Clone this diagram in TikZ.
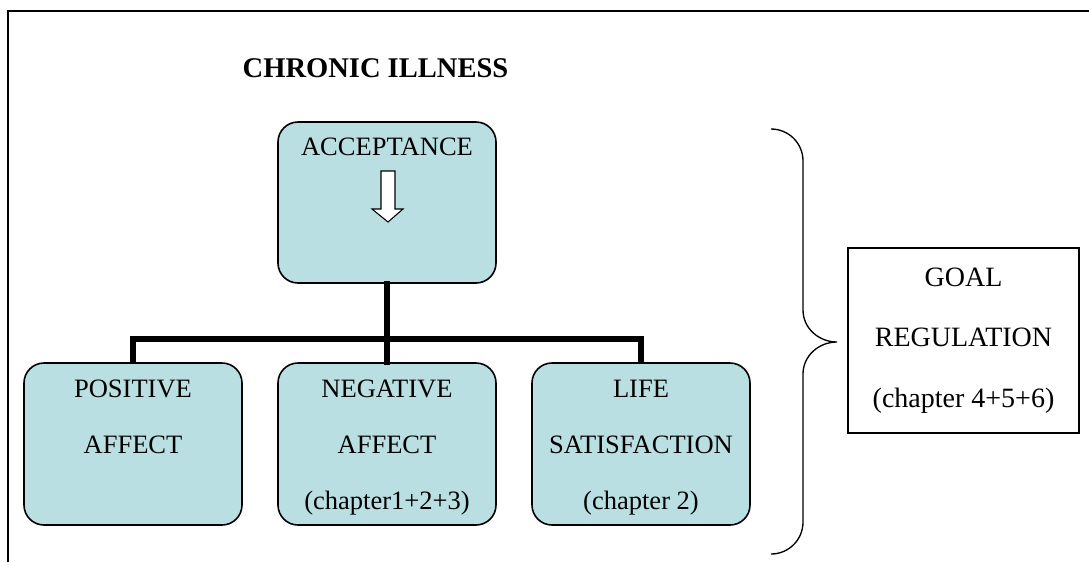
\documentclass[tikz,border=0pt]{standalone}
\usepackage{fontspec}
\setmainfont{Liberation Serif}
\usepackage{tikz}
\definecolor{boxfill}{RGB}{185,223,226}
\newcommand{\boxfont}{\fontsize{19.9pt}{42pt}\selectfont}
\newcommand{\goalfont}{\fontsize{21pt}{45.4pt}\selectfont}

\begin{document}
\begin{tikzpicture}[x=0.75pt,y=-0.75pt,
  rbox/.style={draw,fill=boxfill,line width=1.2pt,rounded corners=15pt,inner sep=0pt,
    minimum width=163.5pt,align=center,font=\boxfont},
  tree/.style={line width=4pt,line cap=rect}]
\useasboundingbox (0,0) rectangle (1089,562);
%\draw[help lines] (0,0) grid[step=50] (1089,562);
\draw[line width=1.5pt] (8,562) -- (8,11) -- (1089,11);
\node(title) at (238,77)[anchor=base west,font=\bfseries\fontsize{21.4pt}{24pt}\selectfont] {CHRONIC ILLNESS};
\node(acc) at (387,202.5)[rbox,minimum height=120.75pt] {};
\node(acctxt) at (387,155)[anchor=base,font=\boxfont] {ACCEPTANCE};
\draw[fill=white,line width=0.8pt] (381,171) -- (395,171) -- (395,209) -- (403,209) -- (388,222) -- (372,209) -- (381,209) -- cycle;
\node(pos) at (133,444)[rbox,minimum height=121.5pt] {\rule{0pt}{19pt}POSITIVE\\AFFECT\\\phantom{(}};
\node(neg) at (387,444)[rbox,minimum height=121.5pt] {\rule{0pt}{19pt}NEGATIVE\\AFFECT\\(chapter1+2+3)};
\node(life) at (641,444)[rbox,minimum height=121.5pt] {\rule{0pt}{19pt}LIFE\\SATISFACTION\\(chapter 2)};
\coordinate(split) at (387,339);
\draw[tree] (acc.south) -- (neg.north);
\draw[tree,line cap=butt] (pos.north) -- (pos.north |- split) -- (life.north |- split) -- (life.north);
% brace
\draw[line width=1pt] (771,129) to[out=0,in=90] (803,161) -- (803,310) to[out=-90,in=180] (837,342)
  to[out=180,in=90] (803,374) -- (803,522) to[out=-90,in=0] (771,554);
\node(goal) at (963.5,340.5)[draw,line width=1.5pt,inner sep=0pt,minimum width=173.25pt,minimum height=138.75pt,
  align=center,font=\goalfont] {GOAL\\REGULATION\\(chapter 4+5+6)};
\end{tikzpicture}
\end{document}
